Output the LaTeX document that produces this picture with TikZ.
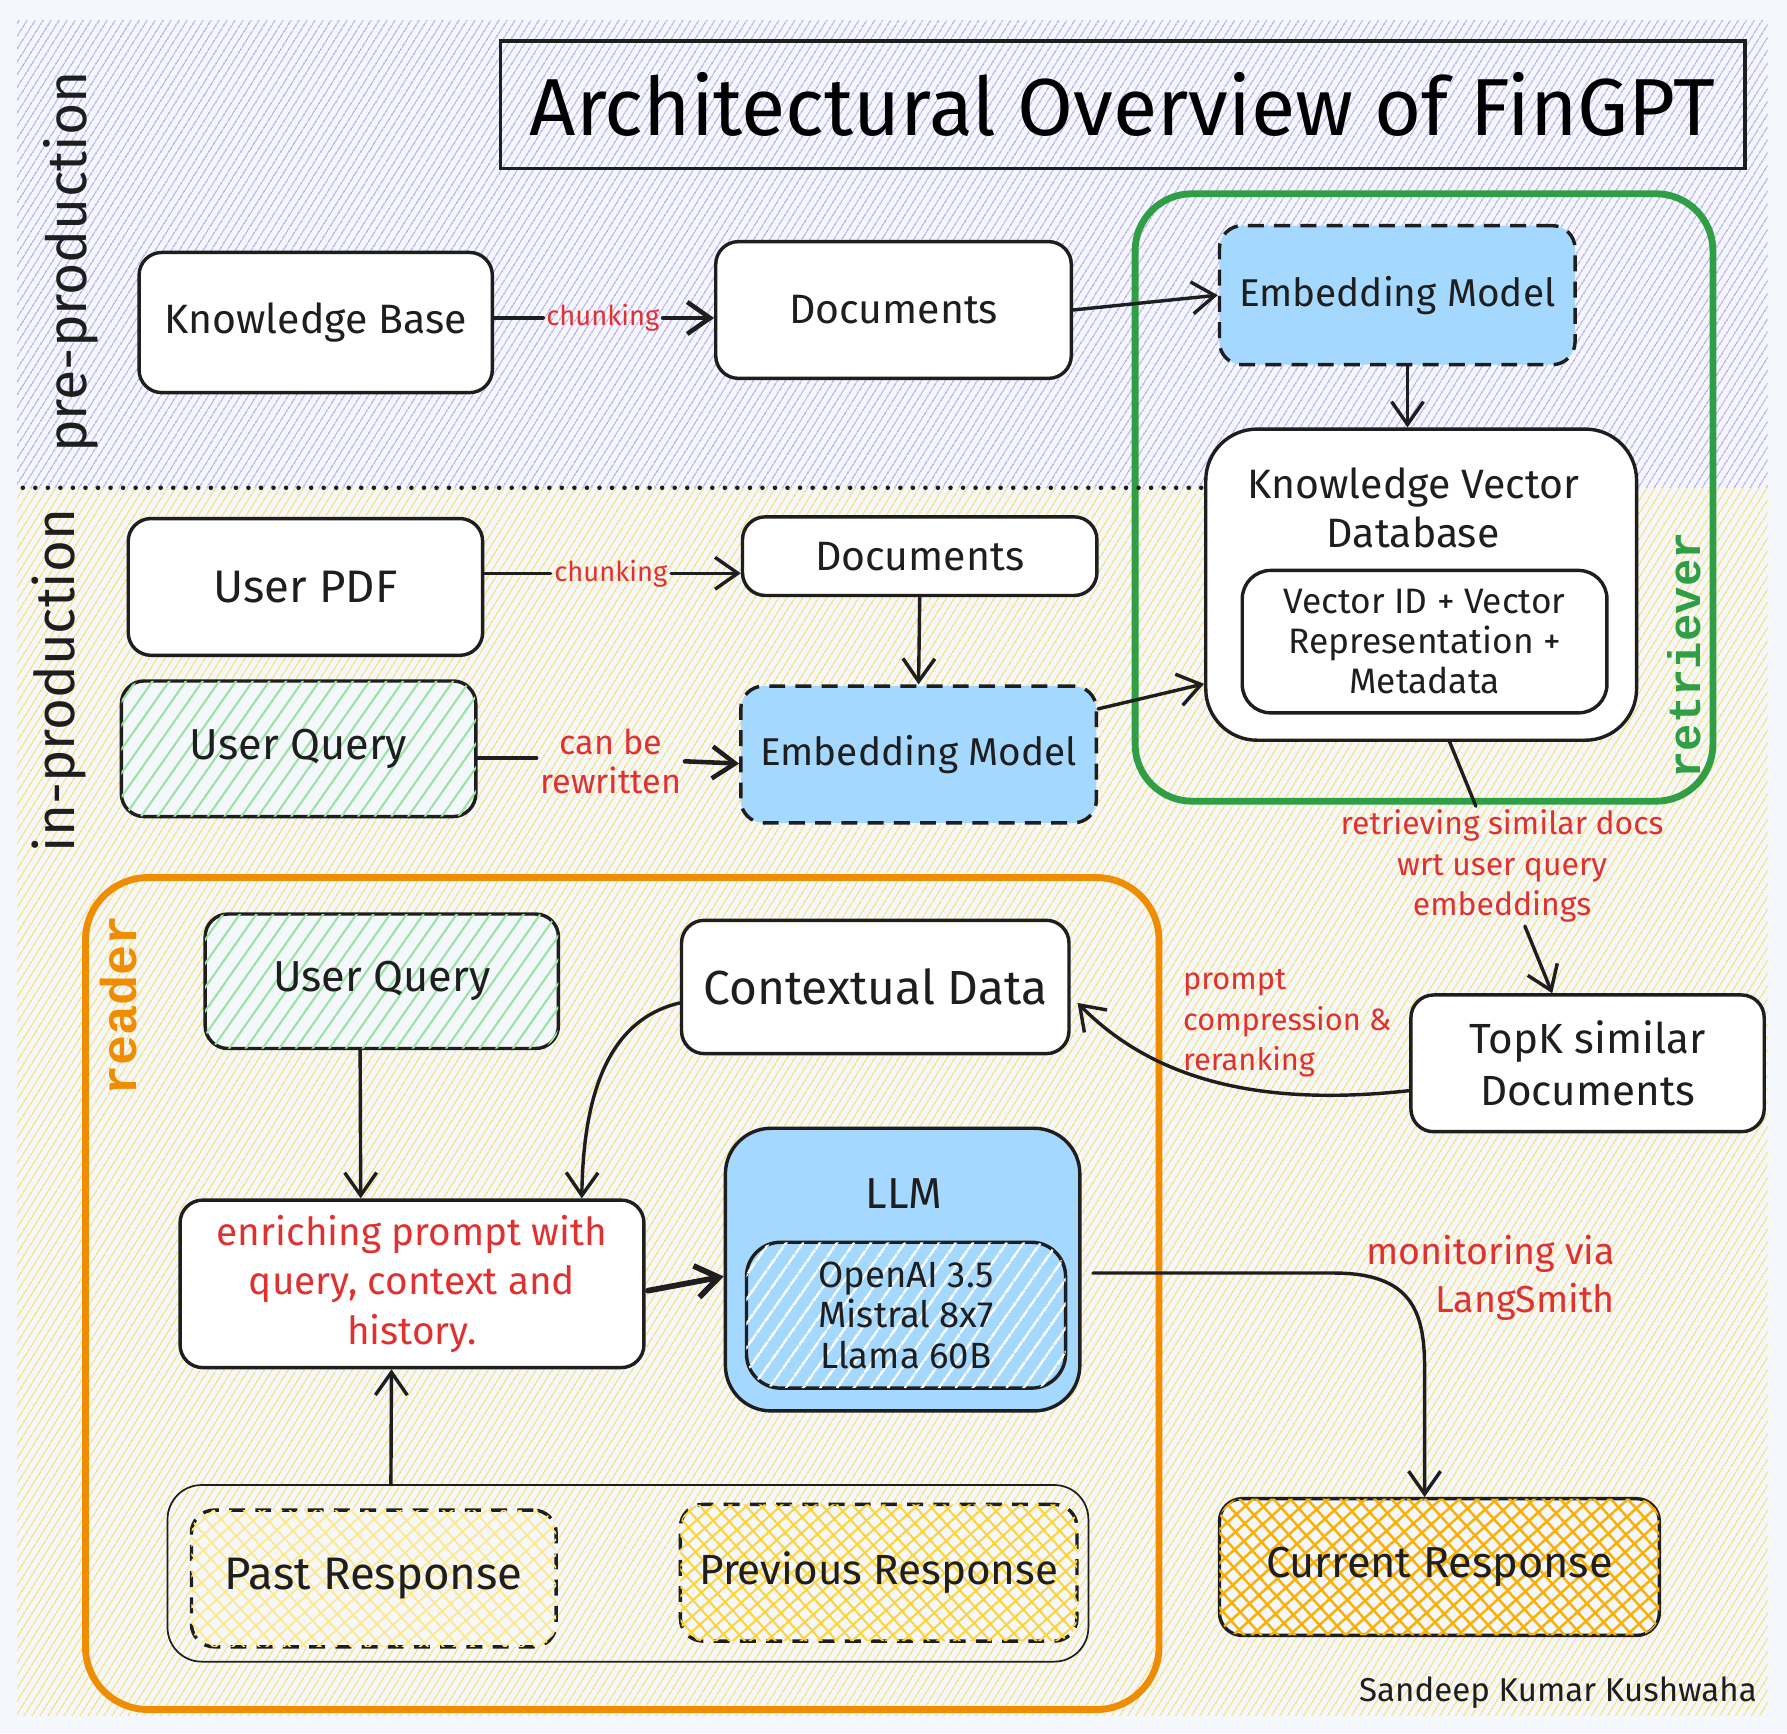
\documentclass[tikz,border=0pt]{standalone}
\usepackage{fontspec}
\setmainfont{Fira Sans}
\newfontfamily\monof{Liberation Mono}
\usetikzlibrary{arrows.meta,patterns.meta,calc}
\newcommand{\fsz}[2]{\fontsize{#1pt}{#2pt}\selectfont}
\definecolor{bgc}{RGB}{244,248,252}
\definecolor{purp}{RGB}{186,168,242}
\definecolor{yel}{RGB}{250,220,110}
\definecolor{bluef}{RGB}{165,216,255}
\definecolor{greenl}{RGB}{150,228,160}
\definecolor{redt}{RGB}{224,49,49}
\definecolor{greenf}{RGB}{47,158,68}
\definecolor{orangef}{RGB}{240,140,0}
\definecolor{inkc}{RGB}{30,30,30}
\definecolor{yelA}{RGB}{255,232,140}
\definecolor{yelB}{RGB}{255,212,59}
\definecolor{yelC}{RGB}{250,176,5}
\begin{document}
\begin{tikzpicture}[x=1pt,y=-1pt,
  sz/.style 2 args={minimum width=#1pt, minimum height=#2pt},
  box/.style={draw=inkc, line width=3pt, rounded corners=20pt, fill=white, align=center, inner sep=0pt, font=\fsz{36}{44}, text=inkc},
  dbox/.style={box, dash pattern=on 14pt off 9pt},
  bluebox/.style={fill=bluef},
  ghatch/.style={fill=bgc, postaction={pattern={Lines[angle=55,distance=12pt,line width=1.8pt]}, pattern color=greenl}},
  xhatch/.style n args={3}{fill=bgc, postaction={pattern={Hatch[angle=42,distance=#2pt,line width=#3pt]}, pattern color=#1}},
  frame/.style={draw, line width=6pt, rounded corners=50pt, inner sep=0pt},
  lbl/.style={text=redt, align=center, inner sep=3pt},
  txt/.style={text=inkc, align=center, inner sep=0pt},
  arr/.style={draw=inkc, line width=3pt, line cap=round, -{Straight Barb[length=20pt,width=28pt]}},
  ln/.style={draw=inkc, line width=3pt, line cap=round}
]
\useasboundingbox (0,0) rectangle (1568,1521);
\fill[bgc] (0,0) rectangle (1568,1521);
\path[pattern={Lines[angle=58,distance=6.5pt,line width=1.35pt]}, pattern color=purp] (15,18) rectangle (1551,428);
\path[pattern={Lines[angle=58,distance=6.5pt,line width=1.35pt]}, pattern color=yel] (15,428) rectangle (1551,1505);

% frames
\node[frame, draw=greenf, sz={507}{533}] (ret) at (1249.5,436.5) {};
\node[frame, draw=orangef, rounded corners=55pt, sz={942}{730}] (rdr) at (546,1135) {};

% title
\node[draw=inkc, line width=3pt, sz={1092}{112}, inner sep=0pt, font=\fsz{71}{78}] (title) at (985,92) {Architectural Overview of FinGPT};

% side labels
\node[txt, rotate=90, font=\fsz{48.5}{52}] (pre) at (62,230) {pre-production};
\node[txt, rotate=90, font=\fsz{48}{52}] (inp) at (52,597) {in-production};
\node[txt, rotate=90, text=greenf, font=\monof\bfseries\fsz{40}{44}] (retl) at (1478,575) {retriever};
\node[txt, rotate=90, text=orangef, font=\monof\bfseries\fsz{44}{48}] (rdrl) at (104,882) {reader};

% pre-production row
\node[box, sz={310}{123}] (kb) at (277,283) {Knowledge Base};
\node[box, sz={312}{120}] (doc1) at (784,272) {Documents};
\node[dbox, bluebox, sz={312}{122}, font=\fsz{34}{42}] (em1) at (1226,259) {Embedding Model};
\node[box, rounded corners=45pt, sz={378}{273}] (kvd) at (1247,513) {};
\node[txt, font=\fsz{36}{43}] (kvdt) at (1240,446) {Knowledge Vector\\Database};
\node[box, rounded corners=25pt, sz={320}{125}, font=\fsz{31}{35}] (vec) at (1250,563) {Vector ID + Vector\\Representation +\\Metadata};

% dotted separator
\draw[inkc, line width=4pt, line cap=round, dash pattern=on 0pt off 11pt] (20,428) -- (kvd.west |- 0,428);

% in-production
\node[box, sz={311}{120}, font=\fsz{40}{44}] (pdf) at (268,515) {User PDF};
\node[box, sz={311}{69}] (doc2) at (807,488) {Documents};
\node[box, ghatch, sz={311}{119}, font=\fsz{38}{44}] (uq1) at (262,657) {User Query};
\node[dbox, bluebox, sz={312}{120}, font=\fsz{34}{42}] (em2) at (806,662) {Embedding Model};
\node[box, sz={310}{120}, font=\fsz{37}{45}] (topk) at (1393,933) {TopK similar\\Documents};

% reader
\node[box, ghatch, sz={310}{118}, font=\fsz{38}{44}] (uq2) at (335,861) {User Query};
\node[box, sz={340}{117}, font=\fsz{42}{48}] (ctx) at (768,866) {Contextual Data};
\node[box, sz={407}{147}, text=redt, font=\fsz{34}{43.5}] (enr) at (361.5,1126.5) {enriching prompt with\\query, context and\\history.};
\node[box, bluebox, rounded corners=40pt, sz={311}{248}] (llm) at (792,1114) {};
\node[txt, font=\fsz{38}{40}] (llmt) at (793,1047) {LLM};
\node[box, rounded corners=30pt, sz={280}{128}, font=\fsz{32}{35.5}, fill=bluef, postaction={pattern={Lines[angle=55,distance=13pt,line width=2pt]}, pattern color=white}] (llmin) at (795,1154) {OpenAI 3.5\\Mistral 8x7\\Llama 60B};
\node[draw=inkc, line width=1.5pt, rounded corners=30pt, sz={808}{155}, inner sep=0pt] (mem) at (551,1380.5) {};
\node[dbox, xhatch={yelA}{10}{1.6}, sz={320}{120}, font=\fsz{40}{44}] (past) at (328,1385) {Past Response};
\node[dbox, xhatch={yelB}{10}{1.8}, sz={348}{120}, font=\fsz{37}{42}] (prev) at (771,1380) {Previous Response};
\node[box, xhatch={yelC}{11}{2.2}, sz={386}{120}, font=\fsz{38}{44}] (cur) at (1263,1375) {Current Response};

% labels
\node[lbl, font=\fsz{24}{30}] (lkb) at (529,279) {chunking};
\node[lbl, font=\fsz{24}{30}] (lpdf) at (536,503) {chunking};
\node[lbl, font=\fsz{30}{34}] (lrw) at (536,668) {can be\\rewritten};
\node[lbl, font=\fsz{28}{35.5}] (lret) at (1318,760) {retrieving similar docs\\wrt user query\\embeddings};
\node[lbl, align=left, anchor=west, font=\fsz{27}{35.5}] (lpc) at (1035,898) {prompt\\compression \&\\reranking};
\node[lbl, align=right, anchor=east, font=\fsz{33}{42}] (lmon) at (1420,1121) {monitoring via\\LangSmith};
\node[txt, font=\fsz{29}{32}] (sig) at (1367,1485) {Sandeep Kumar Kushwaha};

% connectors
\draw[ln, line width=4pt] (kb.east |- lkb.west) -- (lkb.west);
\draw[arr, line width=4pt] (lkb.east) -- (doc1.west |- lkb.east);
\draw[arr] (doc1.east) -- (em1.west);
\draw[arr] ([xshift=9pt]em1.south) -- ([xshift=-12pt]kvd.north);
\draw[ln] (pdf.east |- lpdf.west) -- (lpdf.west);
\draw[arr] (lpdf.east) -- (doc2.west |- lpdf.east);
\draw[arr] (doc2.south) -- (em2.north);
\draw[ln] ([yshift=-8pt]uq1.east) -- (lrw.west |- 0,665);
\draw[arr, line width=4pt] (lrw.east |- 0,668) -- ([yshift=-8pt]em2.west);
\draw[arr] ([yshift=40pt]em2.east) -- ([yshift=-87pt]kvd.west);
\draw[ln] ([xshift=25pt]kvd.south) -- ([xshift=-23pt]lret.north);
\draw[arr] ([xshift=20pt]lret.south) -- ([xshift=-31pt]topk.north);
\draw[arr] ([yshift=-24pt]topk.west) .. controls (1100,972) and (1010,945) .. ([xshift=6pt,yshift=-14pt]ctx.east);
\draw[arr] ([xshift=-19pt]uq2.south) -- ([xshift=-45pt]enr.north);
\draw[arr] ([yshift=-14pt]ctx.west) .. controls (545,892) and (512,940) .. ([xshift=149pt]enr.north);
\draw[arr, line width=5pt] ([xshift=2pt,yshift=-6pt]enr.east) -- ([yshift=-6pt]llm.west);
\draw[arr] ([xshift=-208pt]mem.north) -- ([xshift=-18pt]enr.south);
\draw[arr] ([xshift=10pt,yshift=-3pt]llm.east) -- (1170,1117) .. controls (1238,1117) and (1250,1150) .. (1250,1200) -- ([xshift=-13pt]cur.north);
\end{tikzpicture}
\end{document}
